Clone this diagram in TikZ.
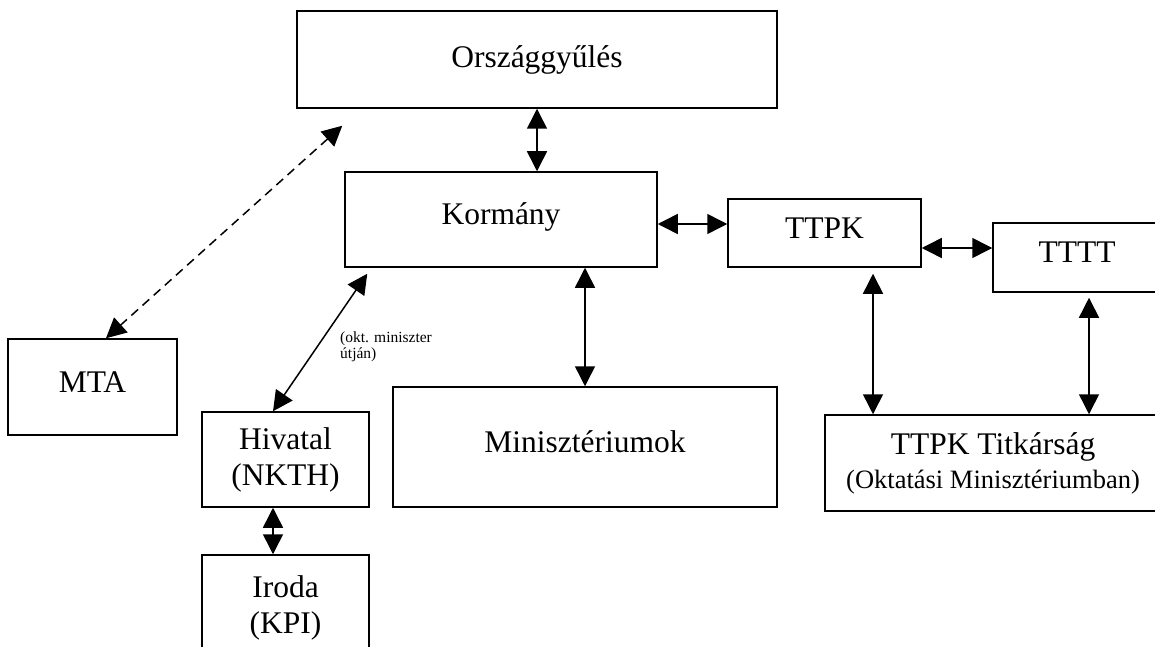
\documentclass[tikz,border=0pt]{standalone}
\usepackage{fontspec}
\setmainfont{Liberation Serif}
\usetikzlibrary{arrows.meta}
\tikzset{
  box/.style={draw, line width=1.5pt, inner sep=0pt, align=center,
    font=\fontsize{31.5}{36}\selectfont},
  raised/.style={text height=22pt, text depth=12pt},
  conn/.style={line width=1.5pt, {Triangle[length=20pt,width=20pt]}-{Triangle[length=20pt,width=20pt]}},
  dconn/.style={conn, dash pattern=on 9pt off 6pt},
  small/.style={inner sep=0pt, align=left, font=\fontsize{15.5}{16}\selectfont}
}
\begin{document}
\begin{tikzpicture}[x=1pt,y=-1pt]
\useasboundingbox (0,0) rectangle (1155,647);
\clip (0,0) rectangle (1155,647);
\node[box, minimum width=480pt, minimum height=97pt] (org) at (537,59.5) {Országgyűlés};
\node[box, raised, minimum width=312pt, minimum height=95pt] (korm) at (501,219.5) {Kormány};
\node[box, raised, minimum width=193pt, minimum height=68pt] (ttpk) at (824.5,233) {TTPK};
\node[box, raised, minimum width=168pt, minimum height=69pt] (tttt) at (1077,257.5) {TTTT};
\node[box, raised, minimum width=169pt, minimum height=96pt] (mta) at (92.5,387) {MTA};
\node[box, minimum width=167pt, minimum height=95pt] (hiv) at (285.5,459.5) {Hivatal\\(NKTH)};
\node[box, raised, minimum width=384pt, minimum height=120pt] (min) at (585,447) {Minisztériumok};
\node[box, minimum width=336pt, minimum height=96pt] (titk) at (993,463) {TTPK Titkárság\\[-2pt]{\fontsize{26.5}{30}\selectfont(Oktatási Minisztériumban)}};
\node[box, minimum width=167pt, minimum height=105pt] (iroda) at (285.5,607.5) {Iroda\\(KPI)};
\node[small, anchor=north west] (lbl) at (340,332) {(okt. miniszter\\útján)};

\draw[conn] (org.south) -- (org.south |- korm.north);
\draw[conn] ([yshift=-4.5pt]korm.east) -- ([yshift=-4.5pt]korm.east -| ttpk.west);
\draw[conn] ([yshift=-15pt]ttpk.east) -- ([yshift=-15pt]ttpk.east -| tttt.west);
\draw[conn] (min.north |- korm.south) -- (min.north);
\draw[conn, shorten <=6pt] ([xshift=48.5pt]ttpk.south) -- ([xshift=48.5pt]ttpk.south |- titk.north);
\draw[conn, shorten <=5pt] ([xshift=12pt]tttt.south) -- ([xshift=12pt]tttt.south |- titk.north);
\draw[conn] ([xshift=-12.5pt]hiv.south) -- ([xshift=-12.5pt]iroda.north);
\draw[conn] ([xshift=23pt,yshift=-6pt]korm.south west) -- ([xshift=-12.5pt]hiv.north);
\draw[dconn] ([xshift=46pt,yshift=-17pt]org.south west) -- ([xshift=13.5pt]mta.north);
\end{tikzpicture}
\end{document}
